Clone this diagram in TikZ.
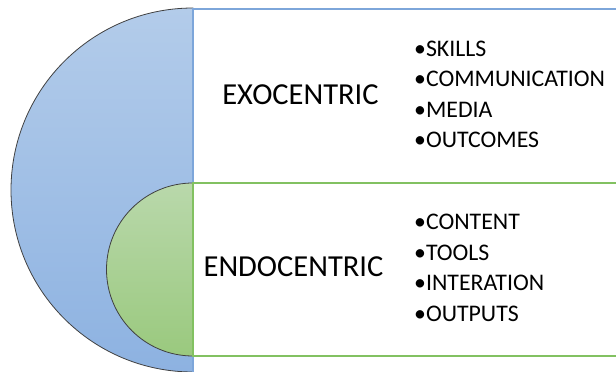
\documentclass[tikz,border=0pt]{standalone}
\usepackage{fontspec}
\setmainfont{Carlito}
\definecolor{blueT}{HTML}{B3CCEA}
\definecolor{blueB}{HTML}{8DB2E1}
\definecolor{greenT}{HTML}{B9D8AB}
\definecolor{greenB}{HTML}{9AC97E}
\definecolor{blueLine}{HTML}{7DA6DA}
\definecolor{greenLine}{HTML}{82C161}
\definecolor{arcLine}{HTML}{404040}
\tikzset{
  half/.style={draw=arcLine, line width=0.8pt},
  title/.style={font=\fontsize{30.5}{36}\selectfont, anchor=base, inner sep=0pt},
  item/.style={font=\fontsize{23.8}{28}\selectfont, anchor=base west, inner sep=0pt},
}
\begin{document}
\begin{tikzpicture}[x=1pt,y=1pt]
\useasboundingbox (0,0) rectangle (616,372);
\clip (0,0) rectangle (616,372);
% big blue half disc
\path[half, top color=blueT, bottom color=blueB]
  (193,364) arc[start angle=90, end angle=270, radius=182] -- cycle;
% small green half disc
\path[half, top color=greenT, bottom color=greenB]
  (193,189) arc[start angle=90, end angle=270, radius=86.5] -- cycle;
% box outlines
\draw[blueLine, line width=1.2pt] (193,0) -- (193,363) -- (625,363);
\draw[greenLine, line width=1.2pt] (625,189) -- (193,189) -- (193,16) -- (625,16);
% texts
\node[title] (exo) at (300.5,267.7) {EXOCENTRIC};
\node[title] (endo) at (293.5,95) {ENDOCENTRIC};
\node[item] (s1) at (414,315.3) {•SKILLS};
\node[item] (s2) at (414,285) {•COMMUNICATION};
\node[item] (s3) at (414,254.7) {•MEDIA};
\node[item] (s4) at (414,224) {•OUTCOMES};
\node[item] (c1) at (414,142) {•CONTENT};
\node[item] (c2) at (414,111.5) {•TOOLS};
\node[item] (c3) at (414,81) {•INTERATION};
\node[item] (c4) at (414,50.5) {•OUTPUTS};
\end{tikzpicture}
\end{document}
